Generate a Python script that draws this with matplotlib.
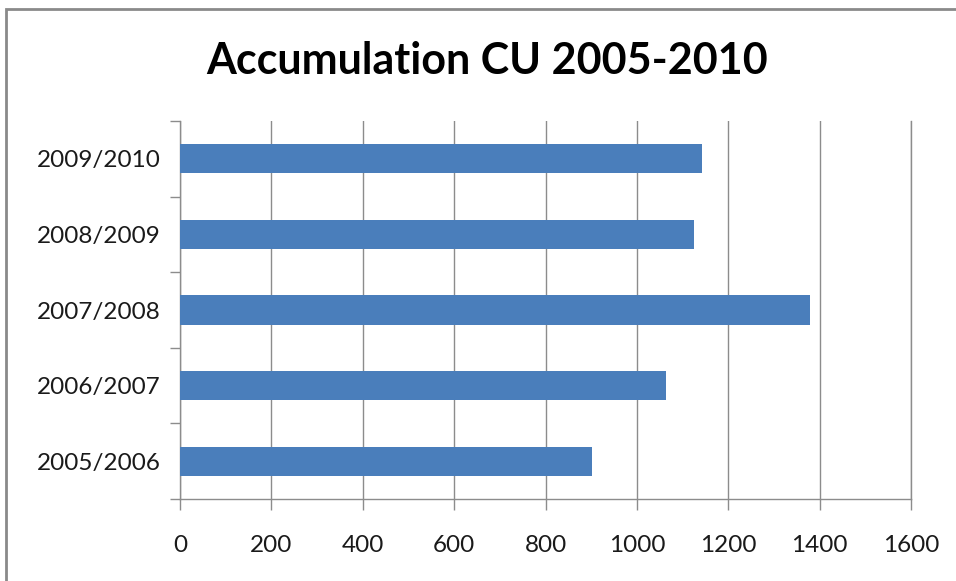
import matplotlib
matplotlib.use("Agg")
import matplotlib.pyplot as plt
from matplotlib.patches import Rectangle

# Accumulation per season
seasons = ["2005/2006", "2006/2007", "2007/2008", "2008/2009", "2009/2010"]
accumulation = [901, 1064, 1380, 1126, 1142]
x_ticks = [0, 200, 400, 600, 800, 1000, 1200, 1400, 1600]
title = "Accumulation CU 2005-2010"

bar_color = "#4A7EBB"
grid_color = "#8C8C8C"
font = "Lato"

fig = plt.figure(figsize=(9.56, 5.81), dpi=100)
fig.patch.set_facecolor("white")

# chart frame
fig.patches.append(Rectangle((6 / 956, -0.05), 1.2, 1 - 8.5 / 581 + 0.05,
                             transform=fig.transFigure, fill=False,
                             edgecolor="#8A8A8A", linewidth=2.0))

ax = fig.add_axes([180 / 956, 1 - 499 / 581, (911 - 180) / 956, (499 - 121) / 581])

ypos = list(range(len(seasons)))
ax.barh(ypos, accumulation, height=0.385, color=bar_color, zorder=3)

ax.set_xlim(0, 1600)
ax.set_ylim(-0.5, len(seasons) - 0.5)
ax.set_xticks(x_ticks)
ax.set_xticklabels([str(v) for v in x_ticks], fontsize=17.5, family=font, color="#1A1A1A")
ax.set_yticks(ypos)
ax.set_yticklabels(seasons, fontsize=17.5, family=font, color="#1A1A1A")

# category boundary ticks on the y axis
ax.set_yticks([i - 0.5 for i in range(len(seasons) + 1)], minor=True)
ax.tick_params(axis="y", which="major", length=0, pad=14)
ax.tick_params(axis="y", which="minor", length=7, width=1, color=grid_color)
ax.tick_params(axis="x", which="major", length=8, width=1, color=grid_color, pad=18)

ax.grid(axis="x", color=grid_color, linewidth=1.0, zorder=0)
ax.spines["top"].set_visible(False)
for side in ["left", "bottom", "right"]:
    ax.spines[side].set_color(grid_color)
    ax.spines[side].set_linewidth(1.0)

fig.text(487 / 956, 1 - 61 / 581, title, ha="center", va="center",
         fontsize=31, fontweight="bold", family=font, color="black")

fig.savefig("out.png", dpi=100)
